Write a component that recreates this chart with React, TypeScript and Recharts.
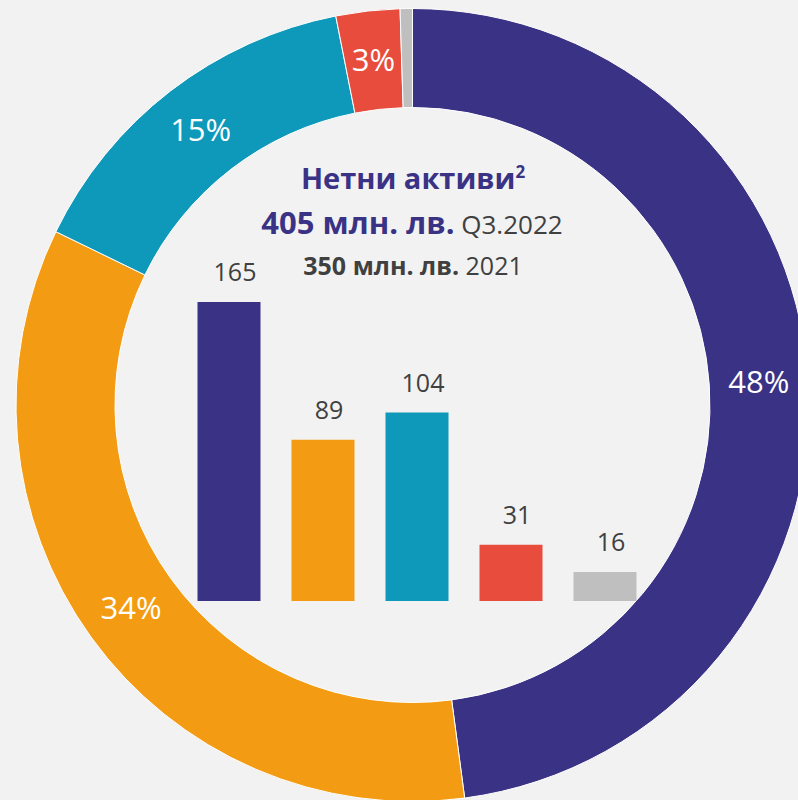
import { PieChart, Pie, Cell, BarChart, Bar, XAxis, YAxis, LabelList } from "recharts"

// donut: shares of net assets, Q3.2022 (%)
const shareKeys = ["s1", "s2", "s3", "s4", "s5"]
const shareValues = [47.9, 34.3, 14.7, 2.6, 0.5]
const shareLabels = ["48%", "34%", "15%", "3%", ""]

// inner bars: net assets by segment (млн. лв.)
const barKeys = ["b1", "b2", "b3", "b4", "b5"]
const barValues = [165, 89, 104, 31, 16]

const colors = ["#3a3285", "#f39c13", "#0e98ba", "#e74c3c", "#bfbfbf"]

const FONT = "'Open Sans', 'Noto Sans', sans-serif"
const PURPLE = "#3a3285"
const DARK = "#404040"
const RADIAN = Math.PI / 180

const pieData = shareKeys.map((k, i) => ({ name: k, value: shareValues[i], label: shareLabels[i] }))
const barData = barKeys.map((k, i) => ({ name: k, value: barValues[i] }))

const renderShareLabel = (props: any) => {
  const { cx, cy, midAngle, innerRadius, outerRadius, payload } = props
  const r = (innerRadius + outerRadius) / 2
  const x = cx + r * Math.cos(-midAngle * RADIAN)
  const y = cy + r * Math.sin(-midAngle * RADIAN)
  if (!payload?.label) return null
  return (
    <text x={x} y={y} dy="0.36em" textAnchor="middle" fill="#ffffff" fontSize={31} fontFamily={FONT}>
      {payload.label}
    </text>
  )
}

const renderBarLabel = (props: any) => {
  const { x, y, width, value } = props
  return (
    <text x={x + width / 2 + 6} y={y - 21} textAnchor="middle" fill={DARK} fontSize={25} fontFamily={FONT}>
      {value}
    </text>
  )
}

export default function App() {
  return (
    <div
      style={{
        position: "absolute",
        left: 0,
        top: 0,
        width: 798,
        height: 800,
        background: "#f2f2f2",
        overflow: "hidden",
      }}
    >
      <div style={{ position: "absolute", left: 0, top: 0 }}>
        <PieChart width={798} height={800} margin={{ top: 0, right: 0, bottom: 0, left: 0 }}>
          <Pie
            data={pieData}
            dataKey="value"
            cx={412.5}
            cy={405}
            innerRadius={297.5}
            outerRadius={396.5}
            startAngle={90}
            endAngle={-270}
            stroke="#ffffff"
            strokeWidth={1}
            label={renderShareLabel}
            labelLine={false}
            isAnimationActive={false}
          >
            {pieData.map((d, i) => (
              <Cell key={d.name} fill={colors[i]} />
            ))}
          </Pie>
        </PieChart>
      </div>

      <div style={{ position: "absolute", left: 0, top: 0 }}>
        <BarChart
          width={798}
          height={800}
          data={barData}
          barSize={63}
          margin={{ top: 238.6, right: 146.5, bottom: 199, left: 181.5 }}
        >
          <XAxis dataKey="name" hide />
          <YAxis hide domain={[0, 200]} />
          <Bar dataKey="value" isAnimationActive={false}>
            {barData.map((d, i) => (
              <Cell key={d.name} fill={colors[i]} />
            ))}
            <LabelList dataKey="value" content={renderBarLabel} />
          </Bar>
        </BarChart>
      </div>

      <svg width={798} height={800} style={{ position: "absolute", left: 0, top: 0, pointerEvents: "none" }}>
        <text x={413} y={189} textAnchor="middle" fontFamily={FONT} fontWeight={700} fontSize={29} fill={PURPLE}>
          Нетни активи
          <tspan fontSize={17} dy={-11}>2</tspan>
        </text>
        <text x={412} y={234} textAnchor="middle" fontFamily={FONT}>
          <tspan fontWeight={700} fontSize={31} fill={PURPLE}>405 млн. лв.</tspan>
          <tspan fontSize={26} fill={DARK}> Q3.2022</tspan>
        </text>
        <text x={413} y={275} textAnchor="middle" fontFamily={FONT}>
          <tspan fontWeight={700} fontSize={25} fill={DARK}>350 млн. лв.</tspan>
          <tspan fontSize={25} fill={DARK}> 2021</tspan>
        </text>
      </svg>
    </div>
  )
}
